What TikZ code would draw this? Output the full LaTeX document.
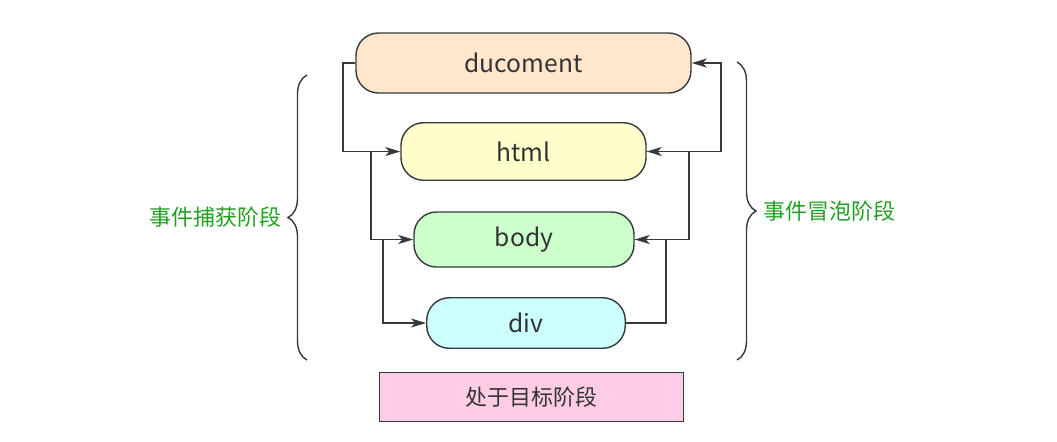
\documentclass[tikz,border=0pt]{standalone}
\usepackage{fontspec}
\setmainfont{Noto Sans CJK SC}
\usetikzlibrary{arrows.meta,positioning,calc,decorations.pathreplacing}
\definecolor{edge}{HTML}{36393D}
\definecolor{ink}{HTML}{333333}
\definecolor{peach}{HTML}{FFE6CC}
\definecolor{lemon}{HTML}{FFFFCC}
\definecolor{mint}{HTML}{CCFFCC}
\definecolor{aqua}{HTML}{CCFFFF}
\definecolor{pink}{HTML}{FFCCE6}
\definecolor{leaf}{HTML}{22A022}

\begin{document}
\begin{tikzpicture}[
  stage/.style={draw=edge,line width=0.8pt,rounded corners=0.45cm,text=ink,font=\fontsize{14}{16}\selectfont},
  flow/.style={-{Stealth[length=0.3cm,width=0.18cm,inset=0.08cm]},edge,line width=1pt},
  phase/.style={decorate,decoration={brace,amplitude=0.38cm},edge,line width=0.8pt},
  phasetext/.style={text=leaf,inner sep=0pt,font=\fontsize{12.5}{15}\selectfont}]
\useasboundingbox (0,0) rectangle (21.14,-8.82);
\node[stage,fill=peach,minimum width=6.7cm,minimum height=1.2cm] (doc) at (10.47,-1.26) {ducoment};
\node[stage,fill=lemon,minimum width=4.9cm,minimum height=1.15cm] (html) at (10.47,-3.03) {html};
\node[stage,fill=mint,minimum width=4.4cm,minimum height=1.1cm] (body) at (10.48,-4.79) {body};
\node[stage,fill=aqua,minimum width=3.97cm,minimum height=1.01cm] (div) at (10.52,-6.46) {div};
\node[draw=edge,line width=0.8pt,fill=pink,text=ink,minimum width=6.07cm,minimum height=0.97cm,font=\fontsize{12.5}{15}\selectfont] (target) at (10.63,-7.94) {处于目标阶段};
% capture
\draw[flow] (doc.west) -- ++(-0.24,0) |- (html.west);
\draw[flow] ($(html.west)+(-0.58,0)$) |- (body.west);
\draw[flow] ($(body.west)+(-0.6,0)$) |- (div.west);
% bubble
\draw[flow] (div.east) -- ++(0.8,0) |- (body.east);
\draw[flow] (body.east) -- ++(1.08,0) |- (html.east);
\draw[flow] (html.east) -- ++(1.48,0) |- (doc.east);
% phases
\draw[phase] (6.14,-7.2) -- (6.14,-1.5) node[midway,left=0.5cm,phasetext] (capture) {事件捕获阶段};
\draw[phase] (14.74,-1.24) -- (14.74,-7.2) node[midway,right=0.52cm,phasetext] (bubble) {事件冒泡阶段};
\end{tikzpicture}
\end{document}
